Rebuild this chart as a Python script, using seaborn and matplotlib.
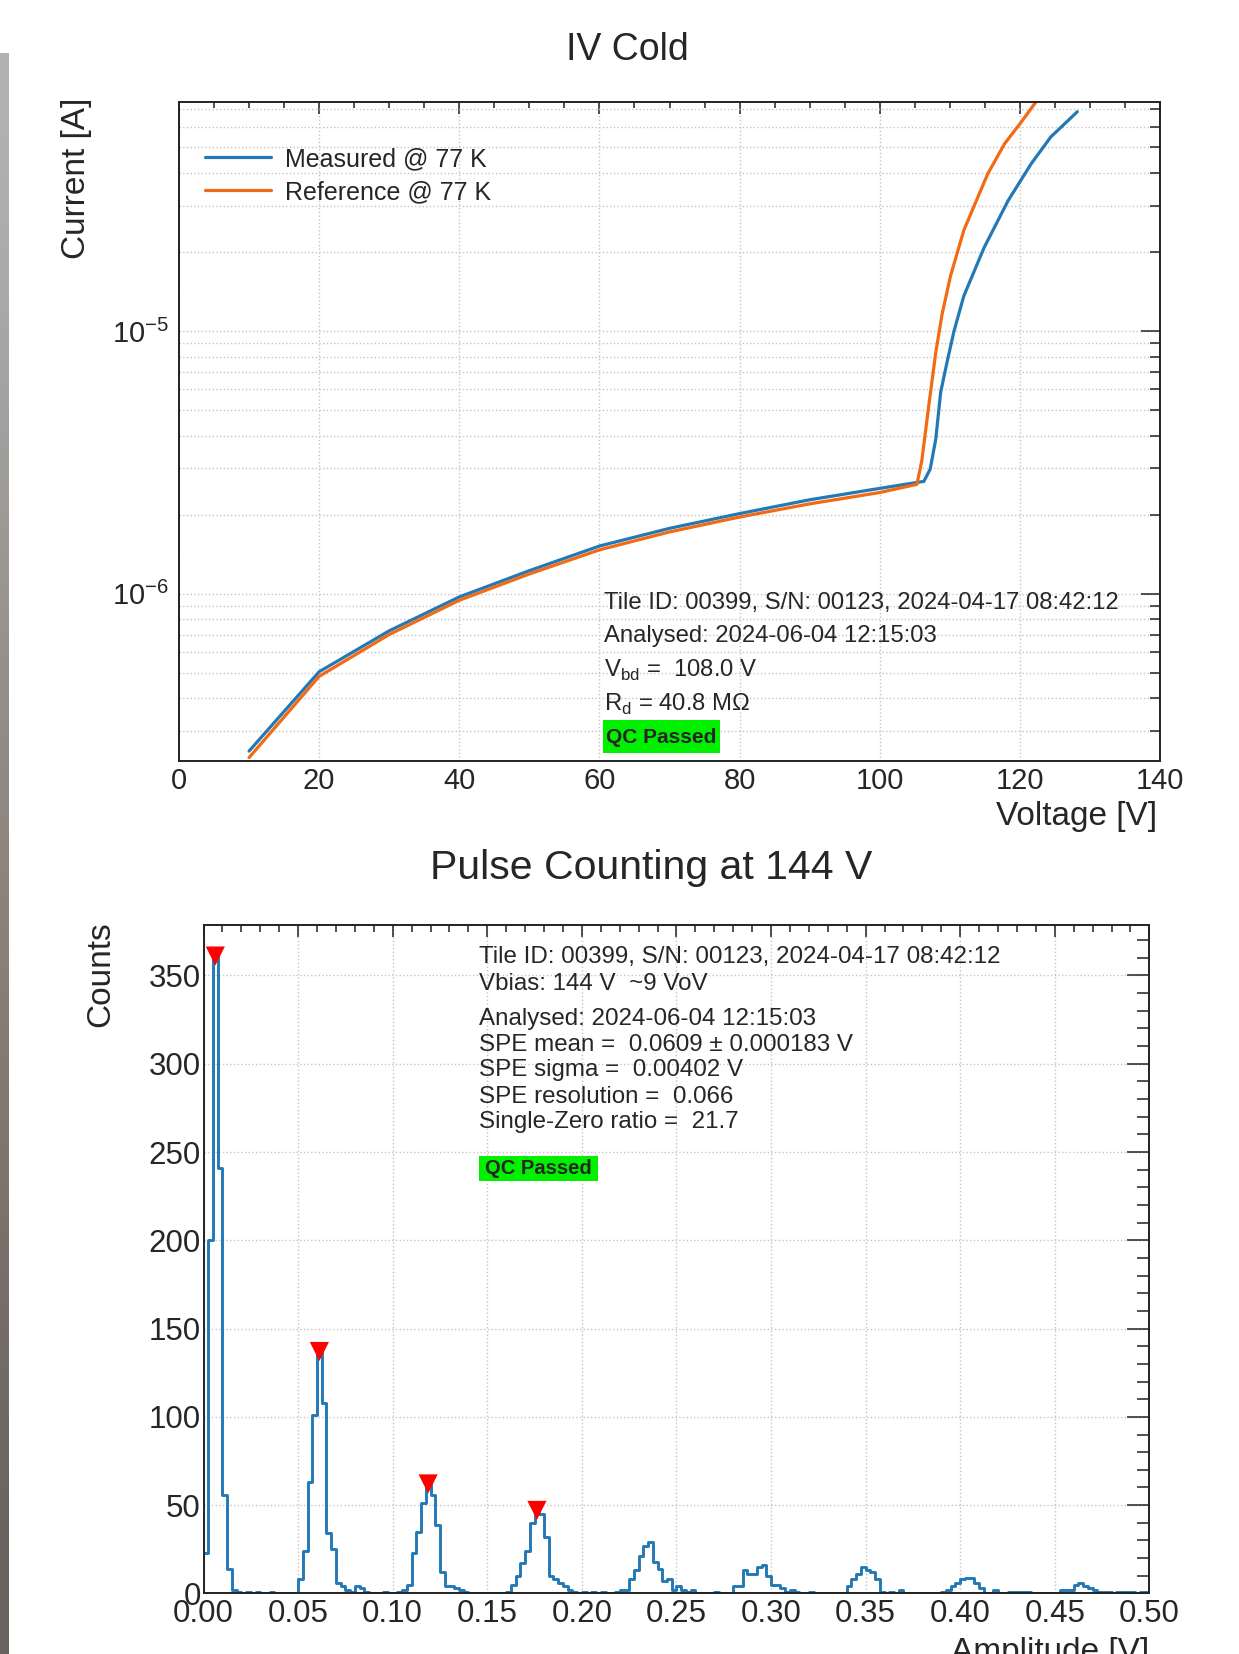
"""
SiPM tile QC summary - IV curve at 77 K and pulse-counting amplitude spectrum.
"""

import numpy as np
import pandas as pd
import matplotlib
matplotlib.use("Agg")
import matplotlib.pyplot as plt
import seaborn as sns
from matplotlib.lines import Line2D
from matplotlib.patches import Rectangle
from matplotlib.ticker import MultipleLocator, LogLocator, NullFormatter, FormatStrFormatter

W, H = 1239, 1654

# ---- IV cold: bias voltage [V] vs current [A] ----
V_MEAS = [10, 20, 30, 40, 50, 60, 70, 80, 90, 100, 106.3, 107.2, 108.0, 108.7,
          109.6, 110.6, 112.0, 114.9, 118.3, 121.6, 124.4, 128.2]
I_MEAS = [2.52e-7, 5.05e-7, 7.23e-7, 9.73e-7, 1.225e-6, 1.52e-6, 1.775e-6,
          2.02e-6, 2.28e-6, 2.52e-6, 2.68e-6, 2.98e-6, 3.88e-6, 5.86e-6,
          7.6e-6, 1.0e-5, 1.36e-5, 2.08e-5, 3.13e-5, 4.33e-5, 5.48e-5, 6.84e-5]
V_REF = [10, 20, 30, 40, 50, 60, 70, 80, 90, 100, 105.3, 106.0, 107.0, 108.0,
         108.9, 110.1, 112.0, 115.4, 117.8, 120.2, 122.3]
I_REF = [2.38e-7, 4.85e-7, 7.0e-7, 9.45e-7, 1.19e-6, 1.47e-6, 1.72e-6,
         1.96e-6, 2.2e-6, 2.43e-6, 2.61e-6, 3.2e-6, 5.2e-6, 8.3e-6,
         1.16e-5, 1.62e-5, 2.42e-5, 3.96e-5, 5.16e-5, 6.25e-5, 7.46e-5]
IV_LABELS = ["Measured @ 77 K", "Reference @ 77 K"]

# ---- pulse counting: 200 bins over 0 .. 0.5 V ----
N_BINS = 200
AMP_RANGE = (0.0, 0.5)
COUNTS = [
    23, 200, 361, 241, 56, 14, 2, 1, 0, 1, 0, 1, 0, 0, 1, 0, 0, 0, 0, 0,
    8, 24, 63, 101, 137, 108, 34, 25, 6, 4, 2, 1, 4, 3, 1, 0, 0, 0, 1, 0,
    0, 1, 2, 5, 23, 35, 51, 62, 56, 39, 12, 4, 4, 3, 2, 1, 0, 0, 0, 0,
    0, 0, 0, 0, 1, 5, 10, 17, 24, 40, 47, 45, 32, 10, 8, 6, 4, 2, 1, 0,
    1, 0, 1, 0, 1, 0, 0, 1, 2, 2, 8, 13, 21, 27, 29, 18, 14, 7, 8, 2,
    4, 2, 1, 2, 0, 0, 0, 0, 1, 0, 0, 0, 4, 4, 13, 11, 11, 15, 16, 10,
    5, 5, 3, 1, 2, 1, 0, 0, 1, 0, 0, 0, 0, 0, 0, 0, 4, 8, 11, 15,
    13, 12, 8, 1, 0, 1, 0, 2, 0, 0, 0, 0, 0, 0, 0, 0, 1, 2, 4, 6,
    8, 9, 9, 6, 3, 0, 0, 2, 0, 0, 1, 1, 1, 1, 1, 0, 0, 0, 0, 0,
    0, 2, 2, 2, 5, 6, 4, 3, 2, 1, 1, 1, 0, 1, 1, 1, 1, 0, 1, 1,
]
PEAK_AMP = [0.00625, 0.06125, 0.11875, 0.17625]
PEAK_COUNTS = [361, 137, 62, 47]

IV_INFO = ["Tile ID: 00399, S/N: 00123, 2024-04-17 08:42:12",
           "Analysed: 2024-06-04 12:15:03",
           r"V$_{\mathregular{bd}}$ =  108.0 V",
           r"R$_{\mathregular{d}}$ = 40.8 MΩ"]
PC_INFO = ["Tile ID: 00399, S/N: 00123, 2024-04-17 08:42:12",
           "Vbias: 144 V  ~9 VoV",
           "Analysed: 2024-06-04 12:15:03",
           "SPE mean =  0.0609 ± 0.000183 V",
           "SPE sigma =  0.00402 V",
           "SPE resolution =  0.066",
           "Single-Zero ratio =  21.7"]

BLUE = "#2379b6"
ORANGE = "#f26a12"
GREEN = "#00f000"

sns.set_style("white")
plt.rcParams["font.family"] = ["Liberation Sans", "DejaVu Sans"]
plt.rcParams["mathtext.fontset"] = "custom"
plt.rcParams["mathtext.rm"] = "Liberation Sans"


def fx(x):
    return x / W


def fy(y):
    return 1 - y / H


def style_axes(ax):
    for s in ax.spines.values():
        s.set_linewidth(1.4)
        s.set_color("#222222")
    ax.tick_params(which="both", direction="in", top=True, right=True,
                   width=1.1, color="#222222")


fig = plt.figure(figsize=(W / 100, H / 100), dpi=100)

# grey strip at the left border of the screenshot
strip = fig.add_axes([0, 0, fx(8.5), (H - 53) / H])
strip_rgb = np.array([[[178, 178, 178]], [[160, 158, 156]], [[146, 140, 134]],
                      [[138, 126, 118]], [[122, 112, 106]], [[104, 98, 96]]]) / 255
strip.imshow(strip_rgb, aspect="auto", interpolation="bicubic")
strip.axis("off")

# ---------------- IV cold ----------------
ax1 = fig.add_axes([fx(179), fy(761), fx(981), 659 / H])
ax1.set_yscale("log")
iv = pd.concat([
    pd.DataFrame({"voltage": V_MEAS, "current": I_MEAS, "series": IV_LABELS[0]}),
    pd.DataFrame({"voltage": V_REF, "current": I_REF, "series": IV_LABELS[1]}),
])
sns.lineplot(data=iv, x="voltage", y="current", hue="series",
             palette=[BLUE, ORANGE], sort=False, estimator=None,
             linewidth=2.3, legend=False, ax=ax1)
ax1.set_xlim(0, 140)
ax1.set_ylim(2.31e-7, 7.45e-5)
ax1.set_xlabel("")
ax1.set_ylabel("")
style_axes(ax1)
ax1.xaxis.set_major_locator(MultipleLocator(20))
ax1.xaxis.set_minor_locator(MultipleLocator(5))
ax1.yaxis.set_major_locator(LogLocator(base=10))
ax1.yaxis.set_minor_locator(LogLocator(base=10, subs=np.arange(2, 10)))
ax1.yaxis.set_minor_formatter(NullFormatter())
ax1.tick_params(axis="x", which="major", length=8.6, labelsize=21, pad=4)
ax1.tick_params(axis="x", which="minor", length=4.3)
ax1.tick_params(axis="y", which="major", length=13.7, labelsize=21, pad=7)
ax1.tick_params(axis="y", which="minor", length=7.2)
ax1.grid(True, which="both", axis="y", linestyle=":", color="#c4c4c4", linewidth=1)
ax1.grid(True, which="major", axis="x", linestyle=":", color="#c4c4c4", linewidth=1)

handles = [Line2D([], [], color=BLUE, linewidth=2.3),
           Line2D([], [], color=ORANGE, linewidth=2.3)]
ax1.legend(handles, IV_LABELS, loc="upper left", frameon=False, fontsize=18,
           bbox_to_anchor=(fx(205), fy(147)), bbox_transform=fig.transFigure,
           handlelength=2.64, handletextpad=0.55, labelspacing=0.36,
           borderpad=0, borderaxespad=0)

for text, y in zip(IV_INFO, [603, 636, 670, 704]):
    fig.text(fx(604), fy(y), text, fontsize=17.2, ha="left", va="center")
fig.patches.append(Rectangle((fx(603), fy(753)), fx(117), 33 / H,
                             transform=fig.transFigure, facecolor=GREEN,
                             edgecolor="none", zorder=3))
fig.text(fx(661.5), fy(737), "QC Passed", fontsize=15, fontweight="bold",
         ha="center", va="center", zorder=4)

fig.text(fx(627), fy(50), "IV Cold", fontsize=27, ha="center", va="center")
fig.text(fx(76), fy(178), "Current [A]", fontsize=24, rotation=90,
         ha="center", va="center")
fig.text(fx(1157), fy(817), "Voltage [V]", fontsize=24, ha="right", va="center")

# ---------------- pulse counting ----------------
ax2 = fig.add_axes([fx(203.5), fy(1593.4), fx(945.9), 668.6 / H])
edges = np.linspace(AMP_RANGE[0], AMP_RANGE[1], N_BINS + 1)
centers = 0.5 * (edges[:-1] + edges[1:])
sns.histplot(x=centers, weights=COUNTS, bins=N_BINS, binrange=AMP_RANGE,
             element="step", fill=False, color=BLUE, linewidth=2.1, ax=ax2)
sns.scatterplot(x=PEAK_AMP, y=PEAK_COUNTS, marker="v", color="red", s=190,
                edgecolor="none", zorder=5, ax=ax2)
ax2.set_xlim(0, 0.5)
ax2.set_ylim(0, 378.7)
ax2.set_xlabel("")
ax2.set_ylabel("")
style_axes(ax2)
ax2.xaxis.set_major_locator(MultipleLocator(0.05))
ax2.xaxis.set_minor_locator(MultipleLocator(0.01))
ax2.yaxis.set_major_locator(MultipleLocator(50))
ax2.yaxis.set_minor_locator(MultipleLocator(10))
ax2.xaxis.set_major_formatter(FormatStrFormatter("%.2f"))
ax2.tick_params(axis="x", which="major", length=8.4, labelsize=22.5, pad=4)
ax2.tick_params(axis="x", which="minor", length=4.8)
ax2.tick_params(axis="y", which="major", length=15.8, labelsize=22.5, pad=2)
ax2.tick_params(axis="y", which="minor", length=8.3)
ax2.grid(True, which="major", linestyle=":", color="#c4c4c4", linewidth=1)

for text, y in zip(PC_INFO, [957, 984, 1019, 1045, 1070, 1097, 1122]):
    fig.text(fx(479), fy(y), text, fontsize=17.4, ha="left", va="center")
fig.patches.append(Rectangle((fx(479), fy(1181)), fx(119), 25 / H,
                             transform=fig.transFigure, facecolor=GREEN,
                             edgecolor="none", zorder=3))
fig.text(fx(538.5), fy(1168.5), "QC Passed", fontsize=14.5, fontweight="bold",
         ha="center", va="center", zorder=4)

fig.text(fx(651), fy(868), "Pulse Counting at 144 V", fontsize=29.5,
         ha="center", va="center")
fig.text(fx(101), fy(974), "Counts", fontsize=24, rotation=90,
         ha="center", va="center")
fig.text(fx(1149), fy(1637), "Amplitude [V]", fontsize=24, ha="right", va="top")

fig.savefig("out.png", dpi=100)
